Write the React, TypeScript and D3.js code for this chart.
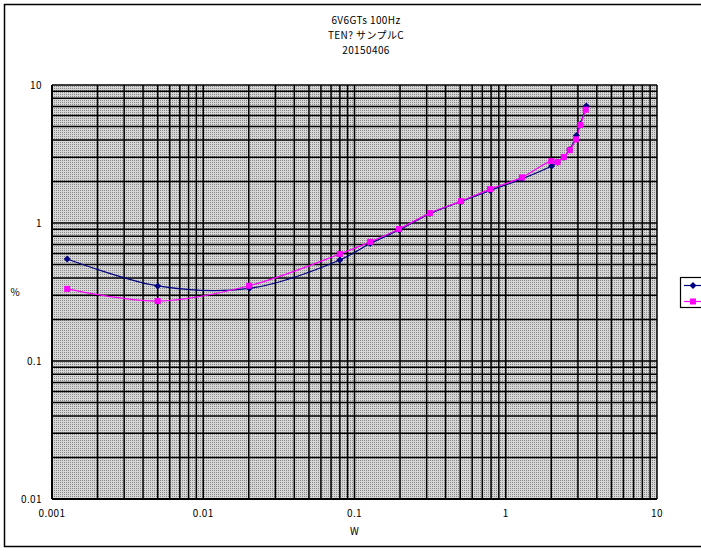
import React from "react";
import * as d3 from "d3";

const titleLines = ["6V6GTs 100Hz", "TEN? サンプルC", "20150406"];
const xTicks = [0.001, 0.01, 0.1, 1, 10];
const yTicks = [0.01, 0.1, 1, 10];
const xLabels = ["0.001", "0.01", "0.1", "1", "10"];
const yLabels = ["0.01", "0.1", "1", "10"];
const xTitle = "W";
const yTitle = "%";

const blueX = [0.00126, 0.005, 0.0202, 0.08, 0.127, 0.197, 0.315, 0.506, 0.79, 1.28, 2.01, 2.2, 2.42, 2.65, 2.93, 3.11, 3.41];
const blueY = [0.548, 0.35, 0.336, 0.54, 0.71, 0.89, 1.17, 1.43, 1.72, 2.09, 2.59, 2.75, 3.0, 3.4, 4.3, 5.2, 7.05];
const pinkX = [0.00126, 0.005, 0.0201, 0.08, 0.127, 0.197, 0.315, 0.506, 0.787, 1.28, 2.0, 2.2, 2.42, 2.65, 2.91, 3.11, 3.38];
const pinkY = [0.333, 0.272, 0.351, 0.596, 0.73, 0.905, 1.18, 1.44, 1.76, 2.14, 2.81, 2.76, 3.01, 3.37, 4.04, 5.13, 6.62];

const L = 52, R = 657, T = 85, B = 499;
const FONT = "'Noto Sans CJK JP', 'Liberation Sans', sans-serif";

export default function App() {
  const x = d3.scaleLog().domain([0.001, 10]).range([L, R]);
  const y = d3.scaleLog().domain([0.01, 10]).range([B, T]);

  const minorX: number[] = [];
  for (let e = -3; e < 1; e++) for (let m = 1; m <= 9; m++) minorX.push(m * Math.pow(10, e));
  minorX.push(10);
  const minorY: number[] = [];
  for (let e = -2; e < 1; e++) for (let m = 1; m <= 9; m++) minorY.push(m * Math.pow(10, e));
  minorY.push(10);

  const line = d3
    .line<[number, number]>()
    .x((d) => x(d[0]))
    .y((d) => y(d[1]))
    .curve(d3.curveCatmullRom.alpha(0.5));

  const blue: [number, number][] = blueX.map((v, i) => [v, blueY[i]]);
  const pink: [number, number][] = pinkX.map((v, i) => [v, pinkY[i]]);

  return (
    <svg width={701} height={552} style={{ position: "absolute", left: 0, top: 0, background: "#fff" }} fontFamily={FONT}>
      <defs>
        <pattern id="dots" width={2} height={2} patternUnits="userSpaceOnUse">
          <rect width={2} height={2} fill="#d6d6d6" />
          <rect width={1} height={1} fill="#8a8a8a" />
        </pattern>
      </defs>
      <rect x={4.5} y={4.5} width={740} height={542} fill="#fff" stroke="#000" strokeWidth={1.5} />
      {titleLines.map((t, i) => (
        <text key={i} x={366} y={24 + i * 15} textAnchor="middle" fontSize={10} letterSpacing={0.4}>
          {t}
        </text>
      ))}
      <rect x={L} y={T} width={R - L} height={B - T} fill="url(#dots)" />
      {minorX.map((v, i) => (
        <line key={"gx" + i} x1={x(v)} x2={x(v)} y1={T} y2={B} stroke="#000" strokeWidth={1.5} />
      ))}
      {minorY.map((v, i) => (
        <line key={"gy" + i} x1={L} x2={R} y1={y(v)} y2={y(v)} stroke="#000" strokeWidth={1.5} />
      ))}
      <line x1={L} x2={L} y1={T} y2={B} stroke="#000" strokeWidth={2} />
      <line x1={L} x2={R} y1={B} y2={B} stroke="#000" strokeWidth={2} />
      {xTicks.map((v, i) => (
        <text key={"xt" + i} x={x(v)} y={517} textAnchor="middle" fontSize={10} letterSpacing={0.4}>
          {xLabels[i]}
        </text>
      ))}
      {yTicks.map((v, i) => (
        <text key={"yt" + i} x={42} y={y(v) + 4} textAnchor="end" fontSize={10} letterSpacing={0.4}>
          {yLabels[i]}
        </text>
      ))}
      <text x={(L + R) / 2} y={535} textAnchor="middle" fontSize={10}>
        {xTitle}
      </text>
      <text x={15} y={296} textAnchor="middle" fontSize={10}>
        {yTitle}
      </text>
      <path d={line(blue) || ""} fill="none" stroke="#000080" strokeWidth={1.2} />
      <path d={line(pink) || ""} fill="none" stroke="#ff00ff" strokeWidth={1.2} />
      {blue.map((d, i) => (
        <path key={"bm" + i} transform={`translate(${x(d[0])},${y(d[1])})`} d="M0,-3.5L3.5,0L0,3.5L-3.5,0Z" fill="#000080" />
      ))}
      {pink.map((d, i) => (
        <rect key={"pm" + i} x={x(d[0]) - 3} y={y(d[1]) - 3} width={6} height={6} fill="#ff00ff" />
      ))}
      <rect x={680.5} y={277.5} width={40} height={30} fill="#fff" stroke="#000" strokeWidth={1.2} />
      <line x1={684} x2={701} y1={285.5} y2={285.5} stroke="#000080" strokeWidth={1.2} />
      <path transform="translate(693,285.5)" d="M0,-3.5L3.5,0L0,3.5L-3.5,0Z" fill="#000080" />
      <line x1={684} x2={701} y1={301.5} y2={301.5} stroke="#ff00ff" strokeWidth={1.2} />
      <rect x={690} y={298.5} width={6} height={6} fill="#ff00ff" />
    </svg>
  );
}
